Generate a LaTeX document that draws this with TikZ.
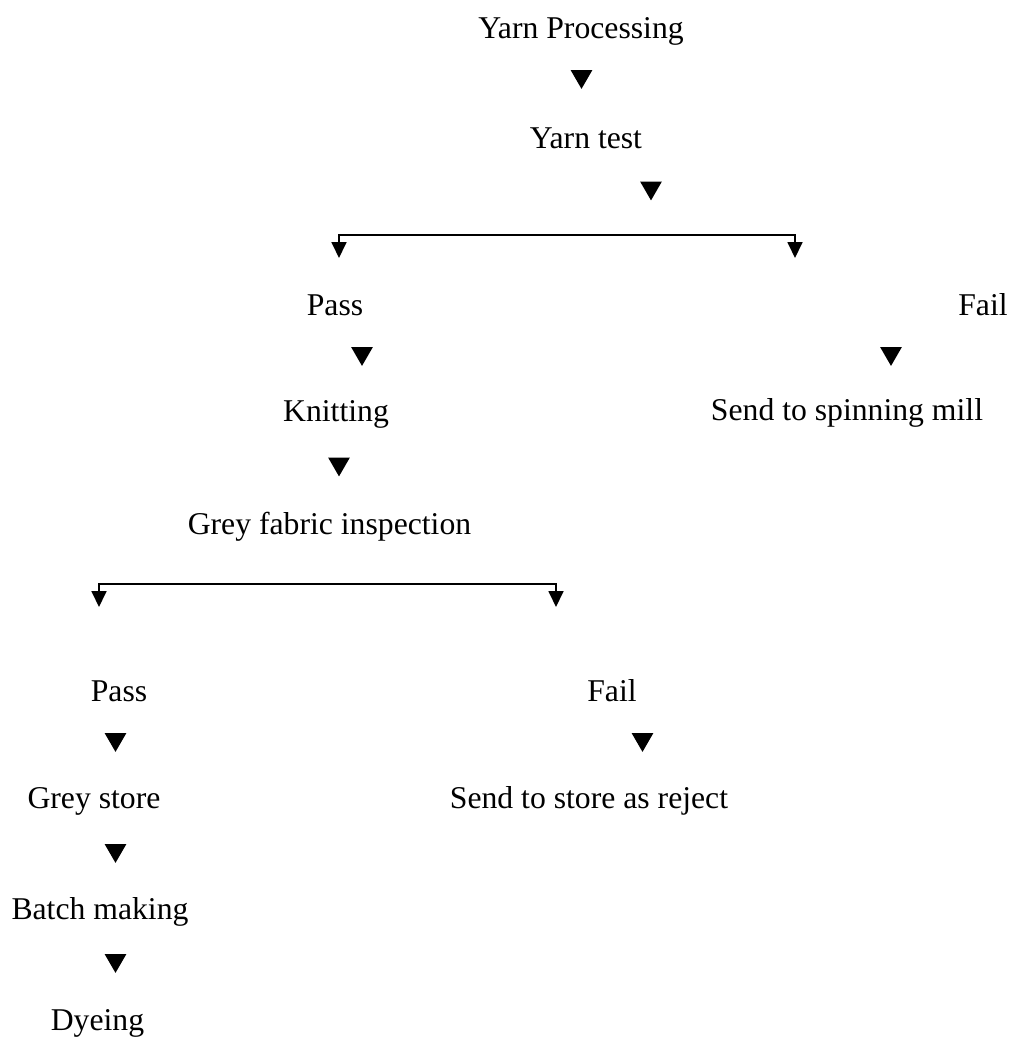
\documentclass[tikz,border=0pt]{standalone}
\usepackage{fontspec}
\setmainfont{Liberation Serif}
\usetikzlibrary{shapes.geometric,arrows.meta}
\begin{document}
\begin{tikzpicture}[x=1pt,y=-1pt,
  lbl/.style={anchor=base,inner sep=0pt,font=\fontsize{31.7}{38}\selectfont},
  tri/.style={regular polygon,regular polygon sides=3,shape border rotate=180,fill=black,draw=none,minimum size=25pt,inner sep=0pt},
  brk/.style={line width=1.8pt,{Triangle[width=15pt,length=16pt]}-{Triangle[width=15pt,length=16pt]}}]
\useasboundingbox (0,0) rectangle (1016,1037);
% texts
\node[lbl] (yp) at (581,38) {Yarn Processing};
\node[lbl] (yt) at (586,148) {Yarn test};
\node[lbl] (pass1) at (335,315) {Pass};
\node[lbl] (fail1) at (983,315) {Fail};
\node[lbl] (knit) at (336,421) {Knitting};
\node[lbl] (spin) at (847,420) {Send to spinning mill};
\node[lbl] (gfi) at (329.5,534) {Grey fabric inspection};
\node[lbl] (pass2) at (119,701) {Pass};
\node[lbl] (fail2) at (612,701) {Fail};
\node[lbl] (gs) at (94,808) {Grey store};
\node[lbl] (rej) at (589,808) {Send to store as reject};
\node[lbl] (bm) at (100,919) {Batch making};
\node[lbl] (dye) at (97.5,1030) {Dyeing};
% triangles
\node[tri] (t1) at (581.5,76.4) {};
\node[tri] (t2) at (651,187.9) {};
\node[tri] (t3) at (362,353.4) {};
\node[tri] (t4) at (891,353.4) {};
\node[tri] (t5) at (339,463.9) {};
\node[tri] (t6) at (115.5,739.4) {};
\node[tri] (t7) at (642.5,739.4) {};
\node[tri] (t8) at (115.5,850.4) {};
\node[tri] (t9) at (115.5,960.4) {};
% brackets
\coordinate (b1l) at (339,258);
\coordinate (b1lt) at (339,235);
\coordinate (b1rt) at (795,235);
\coordinate (b1r) at (795,258);
\draw[brk] (b1l) -- (b1lt) -- (b1rt) -- (b1r);
\coordinate (b2l) at (99,607);
\coordinate (b2lt) at (99,584);
\coordinate (b2rt) at (556,584);
\coordinate (b2r) at (556,607);
\draw[brk] (b2l) -- (b2lt) -- (b2rt) -- (b2r);
\end{tikzpicture}
\end{document}
